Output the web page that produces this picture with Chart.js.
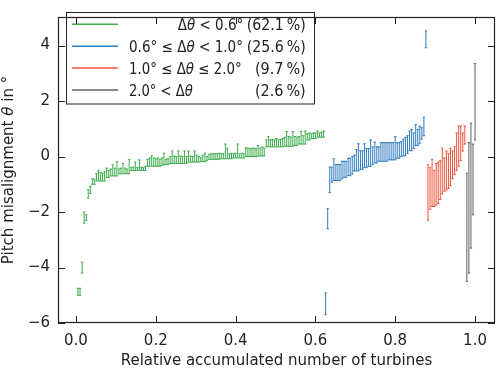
<!DOCTYPE html>
<html>
<head>
<meta charset="utf-8">
<script src="https://cdn.jsdelivr.net/npm/chart.js@4/dist/chart.umd.min.js"></script>
<style>
    html, body { margin: 0; padding: 0; background: #fff; }
    canvas { display: block; }
</style>
</head>
<body>
<canvas id="pitchChart" width="500" height="371"></canvas>
<script>
// Turbines are sorted, x = accumulated share of all turbines
const N_TURBINES = 195;
const xTicks = [0, 0.2, 0.4, 0.6, 0.8, 1.0];
const yTicks = [-6, -4, -2, 0, 2, 4];

// Δθ < 0.6°
const greenLow = [
    -5.0, -5.0, -4.2, -2.4, -2.3, -1.5, -1.33, -1.0, -1.0, -0.88,
    -0.88, -0.88, -0.88, -0.88, -0.75, -0.75, -0.7, -0.7, -0.7, -0.7,
    -0.62, -0.62, -0.62, -0.62, -0.62, -0.62, -0.5, -0.5, -0.5, -0.5,
    -0.5, -0.5, -0.5, -0.5, -0.35, -0.35, -0.35, -0.35, -0.35, -0.35,
    -0.35, -0.32, -0.3, -0.28, -0.28, -0.25, -0.25, -0.25, -0.25, -0.25,
    -0.25, -0.25, -0.25, -0.25, -0.2, -0.2, -0.2, -0.2, -0.2, -0.2,
    -0.18, -0.18, -0.18, -0.15, -0.1, -0.1, -0.1, -0.1, -0.1, -0.1,
    -0.08, -0.08, -0.08, -0.08, -0.08, -0.08, -0.05, -0.05, -0.05, -0.05,
    -0.05, -0.05, 0.0, 0.0, 0.0, 0.0, 0.0, 0.0, 0.02, 0.02,
    0.02, 0.02, 0.35, 0.35, 0.35, 0.35, 0.35, 0.35, 0.35, 0.35,
    0.35, 0.37, 0.37, 0.37, 0.37, 0.37, 0.4, 0.4, 0.45, 0.45,
    0.45, 0.45, 0.6, 0.6, 0.65, 0.65, 0.65, 0.7, 0.7, 0.7,
    0.7
];
const greenHigh = [
    -4.75, -4.75, -3.8, -2.0, -2.1, -1.2, -1.07, -0.8, -0.82, -0.62,
    -0.5, -0.58, -0.6, -0.55, -0.42, -0.5, -0.45, -0.3, -0.42, -0.18,
    -0.45, -0.42, -0.25, -0.42, -0.45, -0.1, -0.4, -0.38, -0.2, -0.4,
    -0.12, -0.38, -0.4, -0.35, -0.1, -0.05, 0.03, -0.05, -0.08, -0.05,
    -0.1, -0.05, 0.12, -0.1, -0.08, 0.0, 0.2, 0.02, 0.0, 0.2,
    0.02, 0.0, 0.2, 0.0, 0.2, 0.02, 0.0, 0.2, 0.05, 0.0,
    -0.05, 0.05, 0.12, 0.0, 0.08, 0.1, 0.1, 0.1, 0.1, 0.12,
    0.1, 0.1, 0.45, 0.3, 0.1, 0.12, 0.1, 0.12, 0.45, 0.1,
    0.12, 0.1, 0.32, 0.3, 0.28, 0.3, 0.3, 0.28, 0.4, 0.3,
    0.35, 0.3, 0.6, 0.72, 0.6, 0.62, 0.6, 0.65, 0.6, 0.62,
    0.65, 0.7, 0.9, 0.72, 0.7, 0.9, 0.72, 0.7, 0.72, 0.9,
    0.75, 0.92, 0.82, 0.85, 0.82, 0.85, 0.85, 0.92, 0.85, 0.88,
    0.92
];

// 0.6° <= Δθ < 1.0°
const blueLow = [
    -5.7, -2.6, -1.3, -0.92, -0.86, -0.86, -0.86, -0.86, -0.8, -0.75,
    -0.75, -0.69, -0.69, -0.63, -0.52, -0.52, -0.52, -0.46, -0.46, -0.4,
    -0.4, -0.35, -0.35, -0.29, -0.23, -0.23, -0.17, -0.17, -0.17, -0.17,
    -0.17, -0.12, -0.12, -0.12, -0.12, -0.06, -0.06, 0.0, 0.03, 0.03,
    0.11, 0.21, 0.21, 0.29, 0.4, 0.4, 0.46, 0.63, 0.75, 3.92
];
const blueHigh = [
    -4.92, -1.88, -0.38, -0.38, -0.08, -0.29, -0.29, -0.29, -0.17, -0.17,
    -0.17, -0.06, -0.06, 0.0, 0.05, 0.25, 0.46, 0.21, 0.21, 0.46,
    0.29, 0.29, 0.6, 0.35, 0.52, 0.35, 0.35, 0.5, 0.5, 0.5,
    0.5, 0.5, 0.5, 0.5, 0.72, 0.5, 0.5, 0.55, 0.63, 0.69,
    0.75, 0.92, 0.98, 0.85, 1.15, 0.98, 1.09, 1.04, 1.42, 4.53
];

// 1.0° <= Δθ <= 2.0°
const redLow = [
    -2.3, -1.9, -1.8, -1.8, -1.75, -1.7, -1.55, -1.35, -1.25, -1.2,
    -1.15, -1.05, -0.8, -0.65, -0.5, -0.35, -0.15, 0.2, 0.45
];
const redHigh = [
    -0.3, -0.4, -0.1, -0.5, -0.25, -0.2, -0.15, 0.3, -0.05, 0.2,
    0.1, 0.3, 0.2, 0.35, 0.85, 1.1, 1.1, 0.85, 1.1
];

// 2.0° < Δθ
const grayLow = [-4.5, -4.2, -3.3, -2.1, 0.6];
const grayHigh = [-0.6, 0.5, 1.2, 0.45, 3.35];

const FONT_FAMILY = '"DejaVu Sans", sans-serif';
const FONT_SIZE = 15;

const groups = [
    { low: greenLow, high: greenHigh, color: '#3cac4c', label: 'green' },
    { low: blueLow, high: blueHigh, color: '#2f7bbf', label: 'blue' },
    { low: redLow, high: redHigh, color: '#f0533a', label: 'red' },
    { low: grayLow, high: grayHigh, color: '#606060', label: 'gray' }
];

// legend rows: range text (fitted into [x0, x1]) and share text (right end at 306)
const legendRows = [
    { parts: [['Δ', false], ['θ', true], [' < 0.6°', false]], x0: 177.7, x1: 243.3, share: '(62.1\u2009%)', s0: 246.7 },
    { parts: [['0.6° ≤ Δ', false], ['θ', true], [' < 1.0°', false]], x0: 129, x1: 243, share: '(25.6\u2009%)', s0: 246.7 },
    { parts: [['1.0° ≤ Δ', false], ['θ', true], [' ≤ 2.0°', false]], x0: 129, x1: 241.7, share: '(9.7\u2009%)', s0: 255 },
    { parts: [['2.0° < Δ', false], ['θ', true]], x0: 129, x1: 192.7, share: '(2.6\u2009%)', s0: 255 }
];

// one vertical segment per turbine, separated by gaps
function errorBarPoints(low, high, start) {
    const pts = [];
    low.forEach((lo, i) => {
        const x = (start + i + 1) / N_TURBINES;
        pts.push({ x: x, y: lo }, { x: x, y: high[i] }, { x: x, y: null });
    });
    return pts;
}

let offset = 0;
const datasets = groups.map(g => {
    const ds = {
        label: g.label,
        data: errorBarPoints(g.low, g.high, offset),
        borderColor: g.color,
        backgroundColor: g.color,
        borderWidth: 1,
        spanGaps: false,
        pointStyle: 'line',
        pointRadius: 1.2,
        pointHoverRadius: 1.2,
        pointBorderWidth: 1,
        pointBorderColor: g.color
    };
    offset += g.low.length;
    return ds;
});

function fontFor(italic) {
    return (italic ? 'italic ' : '') + FONT_SIZE + 'px ' + FONT_FAMILY;
}

function richWidth(ctx, parts) {
    let w = 0;
    parts.forEach(p => {
        ctx.font = fontFor(p[1]);
        w += ctx.measureText(p[0]).width;
    });
    return w;
}

function drawRich(ctx, parts, x, y) {
    parts.forEach(p => {
        ctx.font = fontFor(p[1]);
        ctx.fillText(p[0], x, y);
        x += ctx.measureText(p[0]).width;
    });
}

// squeeze a text run so it covers x0..x1 like the reference
function drawFitted(ctx, parts, x0, x1, y) {
    const w = richWidth(ctx, parts);
    ctx.save();
    ctx.translate(x0, y);
    ctx.scale((x1 - x0) / w, 1);
    drawRich(ctx, parts, 0, 0);
    ctx.restore();
}

const legendPlugin = {
    id: 'rangeLegend',
    afterDatasetsDraw(chart) {
        const ctx = chart.ctx;
        ctx.save();
        ctx.fillStyle = '#fff';
        ctx.fillRect(66, 12, 249, 92);
        ctx.strokeStyle = '#222';
        ctx.lineWidth = 1;
        ctx.strokeRect(66.5, 12.5, 248, 91.5);

        ctx.textBaseline = 'alphabetic';
        ctx.textAlign = 'left';
        ctx.fillStyle = '#222';
        legendRows.forEach((row, i) => {
            const base = 29.8 + i * 21.9;
            const lineY = base - 5.5;
            ctx.strokeStyle = groups[i].color;
            ctx.lineWidth = 1.5;
            ctx.beginPath();
            ctx.moveTo(72, lineY);
            ctx.lineTo(118, lineY);
            ctx.stroke();

            drawFitted(ctx, row.parts, row.x0, row.x1, base);
            drawFitted(ctx, [[row.share, false]], row.s0, 305.7, base);
        });
        ctx.restore();
    }
};

const framePlugin = {
    id: 'frameTicks',
    afterDraw(chart) {
        const ctx = chart.ctx;
        const area = chart.chartArea;
        const xs = chart.scales.x;
        const ys = chart.scales.y;
        const tick = 7;
        ctx.save();
        ctx.strokeStyle = '#222';
        ctx.lineWidth = 1;
        ctx.beginPath();
        xTicks.forEach(v => {
            const px = Math.round(xs.getPixelForValue(v)) + 0.5;
            ctx.moveTo(px, area.bottom);
            ctx.lineTo(px, area.bottom - tick);
            ctx.moveTo(px, area.top);
            ctx.lineTo(px, area.top + tick);
        });
        yTicks.forEach(v => {
            const py = Math.round(ys.getPixelForValue(v)) + 0.5;
            ctx.moveTo(area.left, py);
            ctx.lineTo(area.left + tick, py);
            ctx.moveTo(area.right, py);
            ctx.lineTo(area.right - tick, py);
        });
        ctx.stroke();
        ctx.lineWidth = 1.2;
        ctx.strokeRect(area.left + 0.5, area.top + 0.5, area.right - area.left - 1, area.bottom - area.top - 1);

        // axis titles
        ctx.fillStyle = '#222';
        ctx.textBaseline = 'alphabetic';
        ctx.font = fontFor(false);
        ctx.textAlign = 'center';
        ctx.fillText('Relative accumulated number of turbines', (area.left + area.right) / 2, 365);

        const yParts = [['Pitch misalignment ', false], ['θ', true], [' in °', false]];
        ctx.translate(13, (area.top + area.bottom) / 2);
        ctx.rotate(-Math.PI / 2);
        ctx.textAlign = 'left';
        const w = richWidth(ctx, yParts);
        drawRich(ctx, yParts, -w / 2, 0);
        ctx.restore();
    }
};

function tickLabel(v) {
    return v < 0 ? '\u2212' + Math.abs(v) : String(v);
}

new Chart(document.getElementById('pitchChart').getContext('2d'), {
    type: 'line',
    data: { datasets: datasets },
    options: {
        responsive: false,
        devicePixelRatio: 1,
        animation: false,
        events: [],
        layout: { padding: { top: 5, right: 5, left: 0, bottom: 0 } },
        plugins: {
            legend: { display: false },
            tooltip: { enabled: false }
        },
        scales: {
            x: {
                type: 'linear',
                min: -0.045,
                max: 1.05,
                afterBuildTicks: s => { s.ticks = xTicks.map(v => ({ value: v })); },
                afterFit: s => { s.height = 48; },
                grid: { display: false, drawTicks: false },
                border: { display: false },
                ticks: {
                    padding: 9.5,
                    color: '#222',
                    font: { family: FONT_FAMILY, size: FONT_SIZE },
                    callback: v => v.toFixed(1)
                }
            },
            y: {
                type: 'linear',
                min: -6,
                max: 5.03,
                afterBuildTicks: s => { s.ticks = yTicks.map(v => ({ value: v })); },
                afterFit: s => { s.width = 58; },
                grid: { display: false, drawTicks: false },
                border: { display: false },
                ticks: {
                    padding: 8,
                    color: '#222',
                    font: { family: FONT_FAMILY, size: FONT_SIZE },
                    callback: v => tickLabel(v)
                }
            }
        }
    },
    plugins: [legendPlugin, framePlugin]
});
</script>
</body>
</html>
